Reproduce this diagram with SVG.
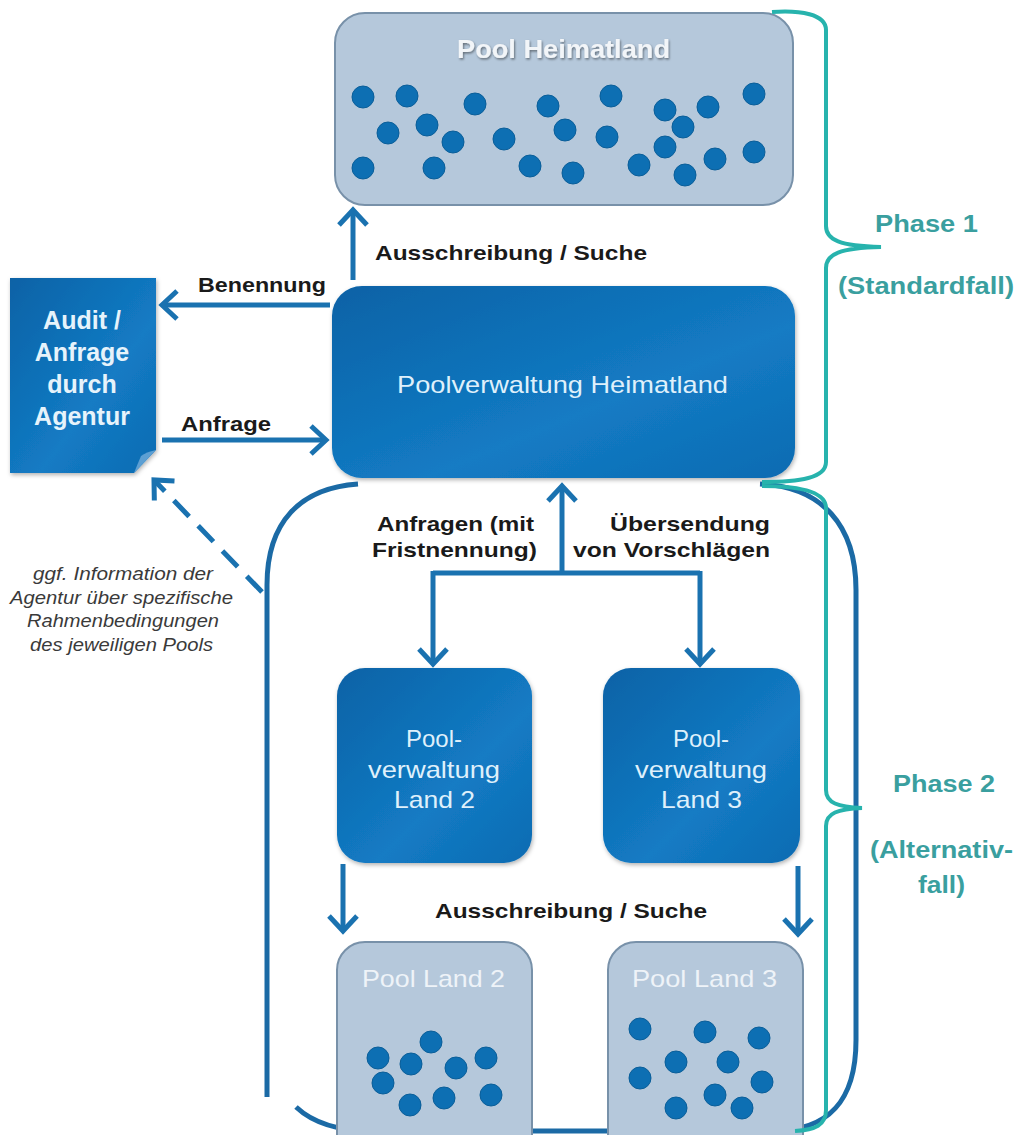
<svg xmlns="http://www.w3.org/2000/svg" width="1017" height="1135" viewBox="0 0 1017 1135">
<defs>
<style>
.pool{fill:#b5c8db;stroke:#7891a9;stroke-width:2}
.dot{fill:#0d6fb3;stroke:#0a5e99;stroke-width:1}
.blue{fill:url(#bg);filter:url(#sh)}
.conn{fill:none;stroke:#1a72b0;stroke-width:5}
.lbl{font-family:"Liberation Sans",Arial,sans-serif;font-weight:bold;font-size:21px;fill:#1a1a1a}
.wt{font-family:"Liberation Sans",Arial,sans-serif;font-size:24px;fill:#dff0fb}
.ptitle{font-family:"Liberation Sans",Arial,sans-serif;font-size:24px;fill:#eef3f8}
.phase{font-family:"Liberation Sans",Arial,sans-serif;font-weight:bold;font-size:23px;fill:#3a9f9f}
.note{font-family:"Liberation Sans",Arial,sans-serif;font-style:italic;font-size:18px;fill:#3a3a3a}
.brace{fill:none;stroke:#27b3ad;stroke-width:4}
.loop{fill:none;stroke:#1b6aa5;stroke-width:5}
</style>
<linearGradient id="bg" x1="0" y1="0" x2="1" y2="1">
<stop offset="0" stop-color="#0a62a6"/>
<stop offset="0.6" stop-color="#137bc4"/>
<stop offset="1" stop-color="#0d6bb2"/>
</linearGradient>
<filter id="sh" x="-10%" y="-10%" width="120%" height="125%">
<feDropShadow dx="1" dy="2" stdDeviation="2" flood-color="#000" flood-opacity="0.3"/>
</filter>
<filter id="tsh" x="-10%" y="-30%" width="120%" height="160%">
<feDropShadow dx="1" dy="1.5" stdDeviation="1" flood-color="#000" flood-opacity="0.45"/>
</filter>
<marker id="ah" viewBox="-20 -18 24 36" markerWidth="24" markerHeight="36" refX="0" refY="0" orient="auto" markerUnits="userSpaceOnUse">
<path d="M -15 -14 L 0 0 L -15 14" fill="none" stroke="#1a72b0" stroke-width="5"/>
</marker>
</defs>

<g id="connectors">
<path class="loop" d="M 358 484 C 300 488 267 522 267 585 L 267 1097"/>
<path class="loop" d="M 296 1107 C 312 1122 338 1131 372 1131 L 772 1131 C 830 1131 856 1100 856 1040 L 856 590 C 856 525 822 487 760 484"/>
<path class="conn" d="M 353 280 L 353 210" marker-end="url(#ah)"/>
<path class="conn" d="M 330 305 L 162 305" marker-end="url(#ah)"/>
<path class="conn" d="M 162 440 L 326 440" marker-end="url(#ah)"/>
<path class="conn" d="M 262 592 L 154 480" stroke-dasharray="22 13" marker-end="url(#ah)"/>
<path class="conn" d="M 562 572 L 562 486" marker-end="url(#ah)"/>
<path class="conn" d="M 433 573 L 700 573"/>
<path class="conn" d="M 433 571 L 433 664" marker-end="url(#ah)"/>
<path class="conn" d="M 700 571 L 700 664" marker-end="url(#ah)"/>
<path class="conn" d="M 343 864 L 343 931" marker-end="url(#ah)"/>
<path class="conn" d="M 798 866 L 798 934" marker-end="url(#ah)"/>
</g>

<g id="pool-heimatland">
<rect class="pool" x="335" y="13" width="458" height="192" rx="30"/>
<text x="457" y="58" font-family="Liberation Sans,Arial,sans-serif" font-weight="bold" font-size="25" fill="#f2f5f8" filter="url(#tsh)" textLength="213" lengthAdjust="spacingAndGlyphs">Pool Heimatland</text>
<g>
<circle class="dot" cx="363" cy="97" r="11"/><circle class="dot" cx="407" cy="96" r="11"/>
<circle class="dot" cx="475" cy="104" r="11"/><circle class="dot" cx="548" cy="106" r="11"/>
<circle class="dot" cx="611" cy="96" r="11"/><circle class="dot" cx="665" cy="110" r="11"/>
<circle class="dot" cx="708" cy="107" r="11"/><circle class="dot" cx="754" cy="94" r="11"/>
<circle class="dot" cx="388" cy="133" r="11"/><circle class="dot" cx="427" cy="125" r="11"/>
<circle class="dot" cx="453" cy="142" r="11"/><circle class="dot" cx="504" cy="139" r="11"/>
<circle class="dot" cx="565" cy="130" r="11"/><circle class="dot" cx="607" cy="137" r="11"/>
<circle class="dot" cx="683" cy="127" r="11"/><circle class="dot" cx="665" cy="147" r="11"/>
<circle class="dot" cx="754" cy="152" r="11"/><circle class="dot" cx="363" cy="168" r="11"/>
<circle class="dot" cx="434" cy="168" r="11"/><circle class="dot" cx="530" cy="166" r="11"/>
<circle class="dot" cx="573" cy="173" r="11"/><circle class="dot" cx="639" cy="165" r="11"/>
<circle class="dot" cx="685" cy="175" r="11"/><circle class="dot" cx="715" cy="159" r="11"/>
</g>
</g>

<g id="poolverwaltung-heimatland">
<rect class="blue" x="332" y="286" width="463" height="192" rx="30"/>
<text class="wt" x="397" y="393" font-size="23" textLength="331" lengthAdjust="spacingAndGlyphs">Poolverwaltung Heimatland</text>
</g>

<g id="audit">
<path d="M 10 278 L 156 278 L 156 450 L 134 473 L 10 473 Z" fill="url(#bg)" filter="url(#sh)"/>
<path d="M 156 450 Q 146 452 141 456 Q 138 463 134 473 Z" fill="#5c9fd3"/>
<g font-family="Liberation Sans,Arial,sans-serif" font-weight="bold" font-size="25" fill="#e6f3fb" text-anchor="middle">
<text x="82" y="329">Audit /</text>
<text x="82" y="361">Anfrage</text>
<text x="82" y="393">durch</text>
<text x="82" y="425">Agentur</text>
</g>
</g>

<g id="poolverwaltung-land-2">
<rect class="blue" x="337" y="668" width="195" height="195" rx="28"/>
<text class="wt" x="406" y="747" textLength="56" lengthAdjust="spacingAndGlyphs">Pool-</text>
<text class="wt" x="368" y="778" textLength="132" lengthAdjust="spacingAndGlyphs">verwaltung</text>
<text class="wt" x="394" y="808" textLength="81" lengthAdjust="spacingAndGlyphs">Land 2</text>
</g>

<g id="poolverwaltung-land-3">
<rect class="blue" x="603" y="668" width="197" height="195" rx="28"/>
<text class="wt" x="673" y="747" textLength="56" lengthAdjust="spacingAndGlyphs">Pool-</text>
<text class="wt" x="635" y="778" textLength="132" lengthAdjust="spacingAndGlyphs">verwaltung</text>
<text class="wt" x="661" y="808" textLength="81" lengthAdjust="spacingAndGlyphs">Land 3</text>
</g>

<g id="pool-land-2">
<rect class="pool" x="337" y="942" width="195" height="230" rx="28"/>
<text class="ptitle" x="362" y="987" textLength="143" lengthAdjust="spacingAndGlyphs">Pool Land 2</text>
<circle class="dot" cx="378" cy="1058" r="11"/><circle class="dot" cx="411" cy="1064" r="11"/>
<circle class="dot" cx="431" cy="1042" r="11"/><circle class="dot" cx="456" cy="1068" r="11"/>
<circle class="dot" cx="486" cy="1058" r="11"/><circle class="dot" cx="383" cy="1083" r="11"/>
<circle class="dot" cx="410" cy="1105" r="11"/><circle class="dot" cx="444" cy="1098" r="11"/>
<circle class="dot" cx="491" cy="1095" r="11"/>
</g>

<g id="pool-land-3">
<rect class="pool" x="608" y="942" width="195" height="230" rx="28"/>
<text class="ptitle" x="632" y="987" textLength="145" lengthAdjust="spacingAndGlyphs">Pool Land 3</text>
<circle class="dot" cx="640" cy="1029" r="11"/><circle class="dot" cx="705" cy="1032" r="11"/>
<circle class="dot" cx="759" cy="1038" r="11"/><circle class="dot" cx="676" cy="1062" r="11"/>
<circle class="dot" cx="728" cy="1062" r="11"/><circle class="dot" cx="640" cy="1078" r="11"/>
<circle class="dot" cx="762" cy="1082" r="11"/><circle class="dot" cx="676" cy="1108" r="11"/>
<circle class="dot" cx="715" cy="1095" r="11"/><circle class="dot" cx="742" cy="1108" r="11"/>
</g>

<g id="labels">
<text class="lbl" x="375" y="260" textLength="272" lengthAdjust="spacingAndGlyphs">Ausschreibung / Suche</text>
<text class="lbl" x="198" y="292" textLength="128" lengthAdjust="spacingAndGlyphs">Benennung</text>
<text class="lbl" x="181" y="431" textLength="90" lengthAdjust="spacingAndGlyphs">Anfrage</text>
<text class="lbl" x="377" y="531" textLength="157" lengthAdjust="spacingAndGlyphs">Anfragen (mit</text>
<text class="lbl" x="372" y="557" textLength="165" lengthAdjust="spacingAndGlyphs">Fristnennung)</text>
<text class="lbl" x="610" y="531" textLength="160" lengthAdjust="spacingAndGlyphs">Übersendung</text>
<text class="lbl" x="573" y="557" textLength="197" lengthAdjust="spacingAndGlyphs">von Vorschlägen</text>
<text class="lbl" x="435" y="918" textLength="272" lengthAdjust="spacingAndGlyphs">Ausschreibung / Suche</text>
<g class="note">
<text x="33" y="580" textLength="180" lengthAdjust="spacingAndGlyphs">ggf. Information der</text>
<text x="10" y="604" textLength="223" lengthAdjust="spacingAndGlyphs">Agentur über spezifische</text>
<text x="27" y="627" textLength="192" lengthAdjust="spacingAndGlyphs">Rahmenbedingungen</text>
<text x="30" y="651" textLength="183" lengthAdjust="spacingAndGlyphs">des jeweiligen Pools</text>
</g>
</g>

<g id="phase-1">
<path class="brace" d="M 772 12 C 800 10 826 14 826 30 L 826 226 C 826 240 840 246 881 247 C 840 248 826 254 826 268 L 826 462 C 826 478 800 482 762 482"/>
<text class="phase" x="875" y="232" textLength="103" lengthAdjust="spacingAndGlyphs">Phase 1</text>
<text class="phase" x="838" y="294" textLength="176" lengthAdjust="spacingAndGlyphs">(Standardfall)</text>
</g>

<g id="phase-2">
<path class="brace" d="M 762 486 C 800 486 826 492 826 508 L 826 790 C 826 803 838 807 862 808 C 838 809 826 813 826 826 L 826 1110 C 826 1125 815 1130 795 1131"/>
<text class="phase" x="893" y="792" textLength="102" lengthAdjust="spacingAndGlyphs">Phase 2</text>
<text class="phase" x="870" y="858" textLength="143" lengthAdjust="spacingAndGlyphs">(Alternativ-</text>
<text class="phase" x="918" y="893" textLength="47" lengthAdjust="spacingAndGlyphs">fall)</text>
</g>
</svg>
